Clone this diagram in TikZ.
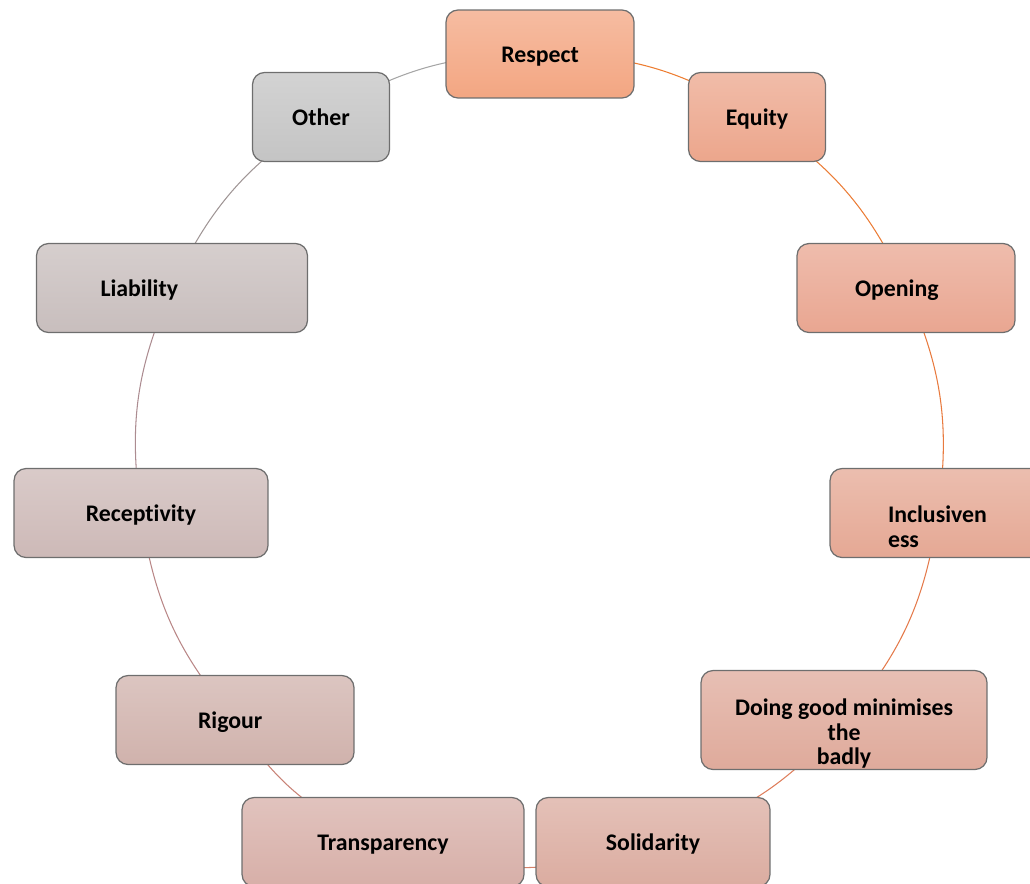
\documentclass[tikz,border=0pt]{standalone}
\usepackage{fontspec}
\setmainfont{Carlito}[Ligatures=NoCommon]
\usetikzlibrary{backgrounds}
\definecolor{colone}{RGB}{243,166,130}
\definecolor{coltwo}{RGB}{236,166,140}
\definecolor{colthree}{RGB}{233,166,145}
\definecolor{colfour}{RGB}{229,168,148}
\definecolor{colfive}{RGB}{223,170,155}
\definecolor{colsix}{RGB}{219,172,160}
\definecolor{colseven}{RGB}{215,175,168}
\definecolor{coleight}{RGB}{208,178,172}
\definecolor{colnine}{RGB}{205,185,183}
\definecolor{colten}{RGB}{200,190,189}
\definecolor{coleleven}{RGB}{196,196,196}
\definecolor{colborder}{RGB}{110,110,110}
\definecolor{lineone}{RGB}{237,125,49}
\definecolor{linetwo}{RGB}{235,125,55}
\definecolor{linethree}{RGB}{232,122,62}
\definecolor{linefour}{RGB}{228,122,75}
\definecolor{linefive}{RGB}{222,125,90}
\definecolor{linesix}{RGB}{212,128,105}
\definecolor{lineseven}{RGB}{200,130,118}
\definecolor{lineeight}{RGB}{185,135,135}
\definecolor{linenine}{RGB}{172,140,145}
\definecolor{lineten}{RGB}{160,150,150}
\definecolor{lineeleven}{RGB}{165,165,165}
\tikzset{%
       valbox/.style = { draw=colborder, line width=0.7pt, rounded corners=2.4mm,
                         inner sep=0pt, minimum height=1.78cm, align=center,
                         top color=#1!75!white, bottom color=#1,
                         text height=0.46cm, text depth=0.12cm,
                         font=\bfseries\fontsize{13.55}{13.8}\selectfont },
    multiline/.style = { text height=, text depth= },
     lefttext/.style = { align=left, inner xsep=#1 },
         link/.style = { draw=#1, line width=0.6pt }
}

\begin{document}
\begin{tikzpicture}[x=0.02cm,y=-0.02cm]
  \useasboundingbox (0,0) rectangle (1030,883);

  \node[valbox=colone, minimum width=3.76cm, minimum height=1.76cm] (respect) at (540,54) {Respect};
  \node[valbox=coltwo, minimum width=2.74cm] (equity) at (757,117) {Equity};
  \node[valbox=colthree, lefttext=1.16cm, text width=2.04cm] (opening) at (906,288) {Opening};
  \node[valbox=colfour, multiline, lefttext=1.16cm, text width=2.0cm] (inclusive) at (938,513) {\rule{0pt}{0.88cm}Inclusiven\\ess};
  \node[valbox=colfive, multiline, minimum width=5.72cm, minimum height=1.98cm] (doinggood) at (844,720) {\rule{0pt}{0.88cm}Doing good minimises\\the\\badly};
  \node[valbox=colsix, minimum width=4.68cm] (solidarity) at (653,842) {Solidarity};
  \node[valbox=colseven, minimum width=5.64cm] (transparency) at (383,842) {Transparency};
  \node[valbox=coleight, lefttext=1.64cm, text width=1.48cm] (rigour) at (235,720) {Rigour};
  \node[valbox=colnine, minimum width=5.08cm] (receptivity) at (141,513) {Receptivity};
  \node[valbox=colten, lefttext=1.28cm, text width=2.86cm] (liability) at (172,288) {Liability};
  \node[valbox=coleleven, minimum width=2.74cm] (other) at (321,117) {Other};

  % ring of arcs behind the boxes
  \begin{pgfonlayer}{background}
    \draw[link=lineone] (respect.center) to[bend left=16] (equity.center);
    \draw[link=linetwo] (equity.center) to[bend left=16] (opening.center);
    \draw[link=linethree] (opening.center) to[bend left=16] (inclusive.center);
    \draw[link=linefour] (inclusive.center) to[bend left=16] (doinggood.center);
    \draw[link=linefive] (doinggood.center) to[bend left=16] (solidarity.center);
    \draw[link=linesix] (solidarity.center) to[bend left=19] (transparency.center);
    \draw[link=lineseven] (transparency.center) to[bend left=18] (rigour.center);
    \draw[link=lineeight] (rigour.center) to[bend left=16] (receptivity.center);
    \draw[link=linenine] (receptivity.center) to[bend left=16] (liability.center);
    \draw[link=lineten] (liability.center) to[bend left=16] (other.center);
    \draw[link=lineeleven] (other.center) to[bend left=16] (respect.center);
  \end{pgfonlayer}

\end{tikzpicture}
\end{document}
